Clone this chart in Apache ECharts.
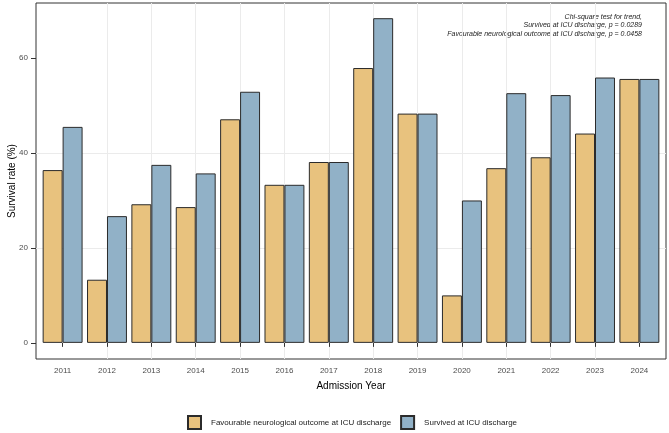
<!DOCTYPE html>
<html>
<head>
<meta charset="utf-8">
<script src="https://cdn.jsdelivr.net/npm/echarts@6/dist/echarts.min.js"></script>
<style>html,body{margin:0;padding:0;background:#fff}#c{width:669px;height:433px}</style>
</head>
<body>
<div id="c"></div>
<script>
var years = ['2011','2012','2013','2014','2015','2016','2017','2018','2019','2020','2021','2022','2023','2024'];
var favourable = [36.4, 13.3, 29.2, 28.6, 47.1, 33.3, 38.1, 57.9, 48.3, 10.0, 36.8, 39.1, 44.1, 55.6];
var survived = [45.5, 26.7, 37.5, 35.7, 52.9, 33.3, 38.1, 68.4, 48.3, 30.0, 52.6, 52.2, 55.9, 55.6];
var yTicks = [0, 20, 40, 60];
var seriesNames = ['Favourable neurological outcome at ICU discharge', 'Survived at ICU discharge'];
var annotation = ['Chi-square test for trend,', 'Survived at ICU discharge, p = 0.0289', 'Favourable neurological outcome at ICU discharge, p = 0.0458'];

var xPos = years.map(function (y, i) { return i + 1; });
function pairs(arr) { return arr.map(function (v, i) { return [i + 1, v]; }); }

var chart = echarts.init(document.getElementById('c'), null, {renderer: 'canvas'});
var font = 'Liberation Sans, Arial, sans-serif';
chart.setOption({
  animation: false,
  textStyle: {fontFamily: font},
  grid: {left: 36, right: 3, top: 3, bottom: 74, show: true, borderColor: '#333333', borderWidth: 1,
         containLabel: false, outerBoundsMode: 'none'},
  graphic: [{
    type: 'text', x: 642, y: 12.5,
    style: {text: annotation.join('\n'), fontSize: 7, fontStyle: 'italic', fill: '#222', align: 'right', verticalAlign: 'top', lineHeight: 8.6, fontFamily: font}
  }],
  legend: {
    top: 410, left: 182, itemWidth: 13, itemHeight: 13, itemGap: 9,
    textStyle: {fontSize: 8, color: '#1a1a1a', fontFamily: font, padding: [0, 0, 0, 5]},
    data: seriesNames.map(function (n) { return {name: n, icon: 'rect'}; })
  },
  xAxis: {
    type: 'value', min: 0.4, max: 14.6, splitNumber: 14, minInterval: 1, maxInterval: 1,
    name: 'Admission Year', nameLocation: 'middle', nameGap: 22, nameMoveOverlap: false,
    nameTextStyle: {fontSize: 10, color: '#000', fontFamily: font},
    axisLine: {show: false},
    axisTick: {show: true, length: 4, lineStyle: {color: '#333'}, customValues: xPos},
    axisLabel: {customValues: xPos, fontSize: 8, color: '#4d4d4d', margin: 8,
      formatter: function (v) { return years[Math.round(v) - 1] || ''; }},
    splitLine: {show: true, showMinLine: false, showMaxLine: false, lineStyle: {color: '#ebebeb', width: 1}}
  },
  yAxis: {
    type: 'value', min: -3.4, max: 71.6, splitNumber: 7, minInterval: 10, maxInterval: 10,
    name: 'Survival rate (%)', nameLocation: 'middle', nameGap: 19, nameRotate: 90, nameMoveOverlap: false,
    nameTextStyle: {fontSize: 10, color: '#000', fontFamily: font},
    axisLine: {show: false},
    axisTick: {show: true, length: 5, lineStyle: {color: '#333'}, customValues: yTicks},
    axisLabel: {customValues: yTicks, fontSize: 8, color: '#4d4d4d', margin: 8},
    splitLine: {show: true, showMinLine: false, showMaxLine: false, lineStyle: {color: '#ebebeb', width: 1}}
  },
  series: [
    {name: seriesNames[0], type: 'bar', data: pairs(favourable), barWidth: '45%', barGap: '0%',
     itemStyle: {color: '#E8C27E', borderColor: '#2b2b2b', borderWidth: 1}},
    {name: seriesNames[1], type: 'bar', data: pairs(survived), barWidth: '45%', barGap: '0%',
     itemStyle: {color: '#91B1C7', borderColor: '#2b2b2b', borderWidth: 1}}
  ]
});
</script>
</body>
</html>
